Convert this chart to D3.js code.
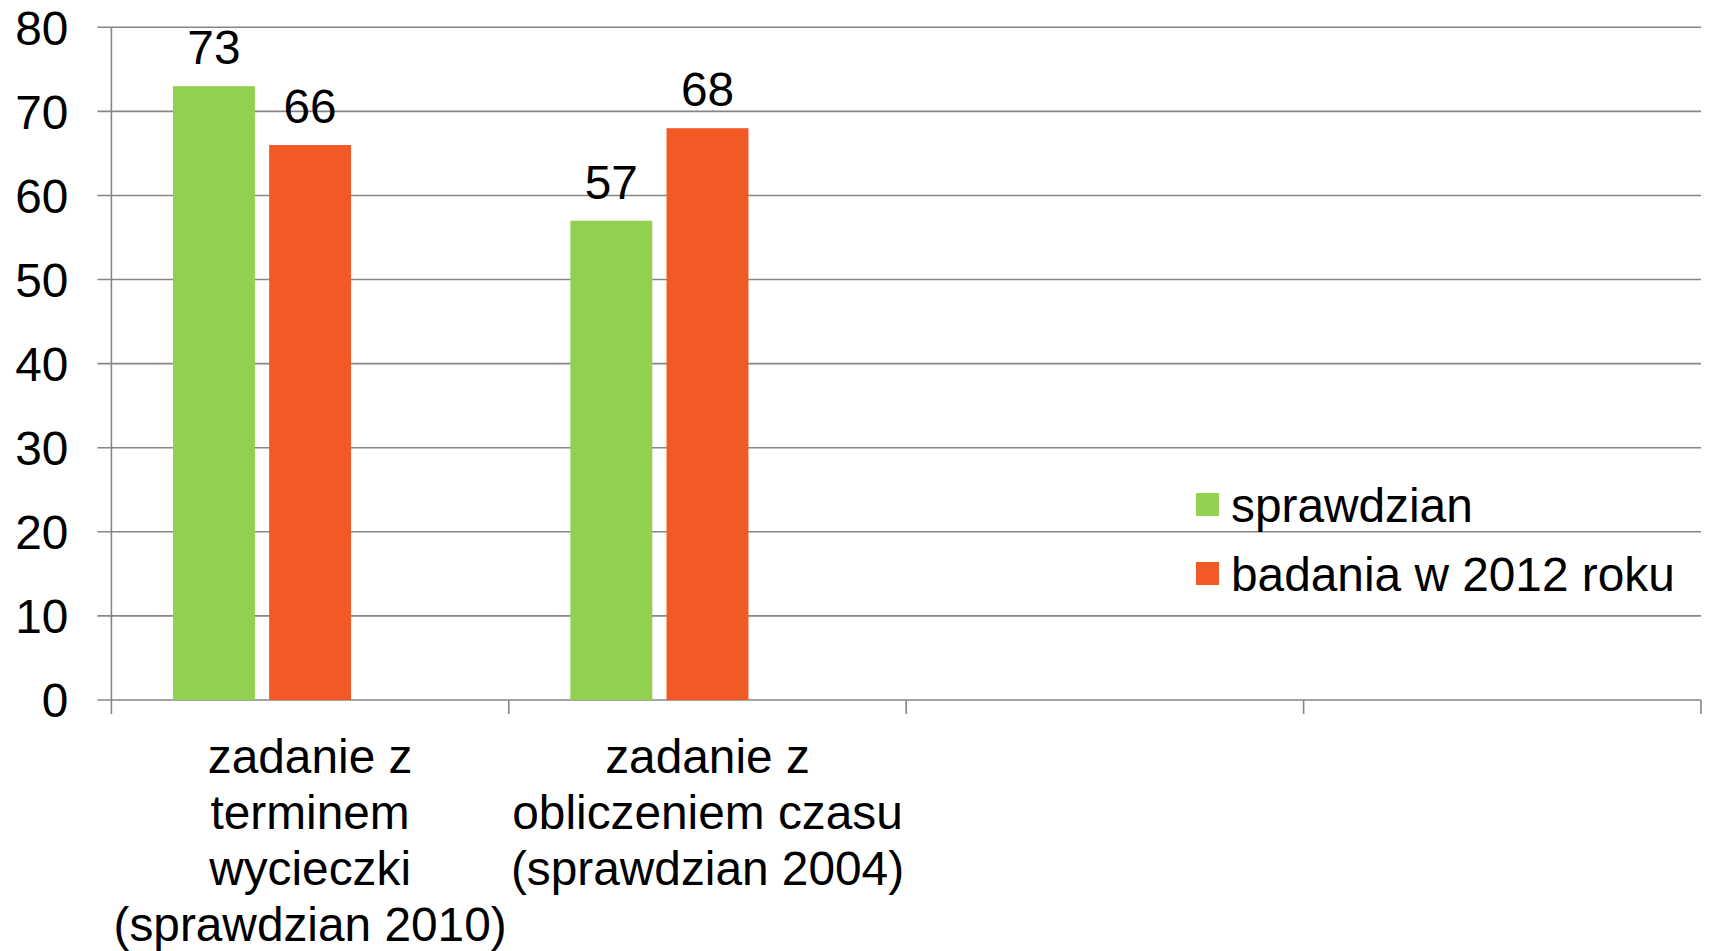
<!DOCTYPE html>
<html>
<head>
<meta charset="utf-8">
<script src="https://cdn.jsdelivr.net/npm/d3@7"></script>
<style>
  html, body { margin: 0; padding: 0; background: #fff; }
  svg text { font-family: "Liberation Sans", Arial, sans-serif; fill: #000; }
</style>
</head>
<body>
<div id="chart"></div>
<script>
// data
var categories = [
  ["zadanie z", "terminem", "wycieczki", "(sprawdzian 2010)"],
  ["zadanie z", "obliczeniem czasu", "(sprawdzian 2004)"],
  [],
  []
];
var seriesNames = ["sprawdzian", "badania w 2012 roku"];
var sprawdzian = [73, 57, null, null];
var badania2012 = [66, 68, null, null];
var seriesColors = ["#92D050", "#F15A24"];
var yTicks = [0, 10, 20, 30, 40, 50, 60, 70, 80];

var svgWidth = 1712;
var svgHeight = 951;

var margin = { top: 27.3, left: 111.4, right: 11, bottom: 251 };
var width = svgWidth - margin.left - margin.right;
var height = svgHeight - margin.top - margin.bottom;

var svg = d3.select("#chart").append("svg")
  .attr("width", svgWidth)
  .attr("height", svgHeight);

var chartGroup = svg.append("g")
  .attr("transform", `translate(${margin.left}, ${margin.top})`);

var gridColor = "#868686";
var fontSize = 47.8;

// scales
var x = d3.scaleBand()
  .domain(d3.range(categories.length))
  .range([0, width])
  .padding(0);

// three slots per category; the bars sit in the first two
var xInner = d3.scaleBand()
  .domain([0, 1, 2])
  .range([0, x.bandwidth()])
  .paddingInner(0.148)
  .paddingOuter(0.64);

var y = d3.scaleLinear().domain([0, 80]).range([height, 0]);

// gridlines
chartGroup.append("g")
  .selectAll("line")
  .data(yTicks)
  .enter()
  .append("line")
  .attr("x1", -14)
  .attr("x2", width)
  .attr("y1", d => y(d))
  .attr("y2", d => y(d))
  .attr("stroke", gridColor)
  .attr("stroke-width", 1.6);

// y tick labels
chartGroup.append("g")
  .selectAll("text")
  .data(yTicks)
  .enter()
  .append("text")
  .attr("x", -43)
  .attr("y", d => y(d))
  .attr("dy", "0.36em")
  .attr("text-anchor", "end")
  .style("font-size", fontSize + "px")
  .text(d => d);

// y axis line
chartGroup.append("line")
  .attr("x1", 0).attr("x2", 0)
  .attr("y1", 0).attr("y2", height + 14)
  .attr("stroke", gridColor)
  .attr("stroke-width", 1.6);

// x ticks on category boundaries
var boundaries = d3.range(categories.length).map(i => x(i)).concat([x.range()[1]]);
chartGroup.append("g")
  .selectAll("line")
  .data(boundaries.slice(1))
  .enter()
  .append("line")
  .attr("x1", d => d).attr("x2", d => d)
  .attr("y1", height).attr("y2", height + 14)
  .attr("stroke", gridColor)
  .attr("stroke-width", 1.6);

// bars
var allSeries = [sprawdzian, badania2012];
allSeries.forEach(function(values, s) {
  var g = chartGroup.append("g");
  var rows = values.map((v, i) => ({ i: i, v: v })).filter(d => d.v != null);

  g.selectAll("rect")
    .data(rows)
    .enter()
    .append("rect")
    .attr("x", d => x(d.i) + xInner(s))
    .attr("y", d => y(d.v))
    .attr("width", xInner.bandwidth())
    .attr("height", d => height - y(d.v))
    .attr("fill", seriesColors[s]);

  g.selectAll("text")
    .data(rows)
    .enter()
    .append("text")
    .attr("x", d => x(d.i) + xInner(s) + xInner.bandwidth() / 2)
    .attr("y", d => y(d.v) - 22)
    .attr("text-anchor", "middle")
    .style("font-size", fontSize + "px")
    .text(d => d.v);
});

// category labels
var labelGroup = chartGroup.append("g");
categories.forEach(function(lines, i) {
  var t = labelGroup.append("text")
    .attr("text-anchor", "middle")
    .style("font-size", fontSize + "px");
  lines.forEach(function(line, k) {
    t.append("tspan")
      .attr("x", x(i) + x.bandwidth() / 2)
      .attr("y", height + 73 + k * 56)
      .text(line);
  });
});

// legend
var legend = svg.append("g")
  .attr("transform", "translate(1196, 493)");

seriesNames.forEach(function(name, s) {
  var row = legend.append("g").attr("transform", `translate(0, ${s * 69})`);
  row.append("rect")
    .attr("width", 23)
    .attr("height", 23)
    .attr("fill", seriesColors[s]);
  row.append("text")
    .attr("x", 35)
    .attr("y", 29)
    .style("font-size", fontSize + "px")
    .text(name);
});
</script>
</body>
</html>
